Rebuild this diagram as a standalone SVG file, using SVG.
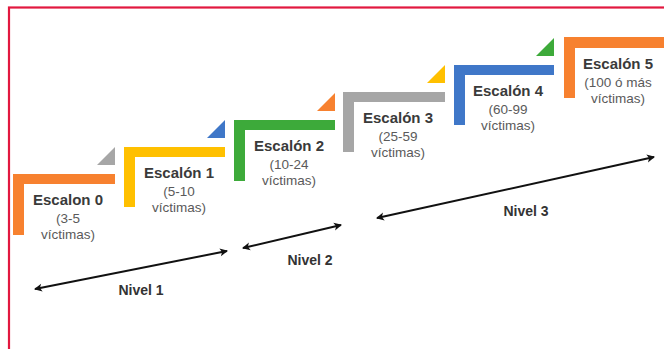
<svg xmlns="http://www.w3.org/2000/svg" width="664" height="349" viewBox="0 0 664 349">
<defs>
<marker id="ah" viewBox="0 0 10 10" refX="8" refY="5" markerWidth="5" markerHeight="5" orient="auto-start-reverse" markerUnits="strokeWidth">
<path d="M1,1 L9,5 L1,9 L3,5 Z" fill="#111"/>
</marker>
<style>
.t{font-family:"Liberation Sans",Arial,sans-serif;font-weight:bold;font-size:15px;fill:#3a3a3a;text-anchor:middle}
.s{font-family:"Liberation Sans",Arial,sans-serif;font-size:13.5px;fill:#5a5a5a;text-anchor:middle}
.n{font-family:"Liberation Sans",Arial,sans-serif;font-weight:bold;font-size:14px;fill:#333;text-anchor:middle}
.ln{stroke:#111;stroke-width:2;fill:none;marker-start:url(#ah);marker-end:url(#ah)}
</style>
</defs>
<rect x="0" y="0" width="664" height="349" fill="#fff"/>
<rect x="9" y="7.5" width="670" height="360" fill="none" stroke="#E2183F" stroke-width="2.2"/>

<g id="escalon0">
<path d="M13,174 H115 V184 H24 V235 H13 Z" fill="#F7812F"/>
<path d="M97,165 H115 V147 Z" fill="#A6A6A6"/>
<text class="t" x="68" y="205">Escalon 0</text>
<text class="s" x="68" y="223">(3-5</text>
<text class="s" x="68" y="239">víctimas)</text>
</g>
<g id="escalon1">
<path d="M124,147 H225 V157 H135 V207 H124 Z" fill="#FFC000"/>
<path d="M207,138 H225 V120 Z" fill="#3F77C8"/>
<text class="t" x="179" y="178">Escalón 1</text>
<text class="s" x="179" y="196">(5-10</text>
<text class="s" x="179" y="212">víctimas)</text>
</g>
<g id="escalon2">
<path d="M234,120 H335 V130 H245 V181 H234 Z" fill="#3DAA3A"/>
<path d="M317,111 H335 V93 Z" fill="#F7812F"/>
<text class="t" x="289" y="151">Escalón 2</text>
<text class="s" x="289" y="169">(10-24</text>
<text class="s" x="289" y="185">víctimas)</text>
</g>
<g id="escalon3">
<path d="M343,92 H445 V102 H354 V152 H343 Z" fill="#A6A6A6"/>
<path d="M427,83 H445 V65 Z" fill="#FFC000"/>
<text class="t" x="398" y="123">Escalón 3</text>
<text class="s" x="398" y="141">(25-59</text>
<text class="s" x="398" y="157">víctimas)</text>
</g>
<g id="escalon4">
<path d="M454,65 H554 V75 H465 V125 H454 Z" fill="#3F77C8"/>
<path d="M536,56 H554 V38 Z" fill="#3DAA3A"/>
<text class="t" x="508" y="96">Escalón 4</text>
<text class="s" x="508" y="114">(60-99</text>
<text class="s" x="508" y="130">víctimas)</text>
</g>
<g id="escalon5">
<path d="M564,37 H670 V48 H575 V98 H564 Z" fill="#F7812F"/>
<text class="t" x="618" y="69">Escalón 5</text>
<text class="s" x="618" y="87">(100 ó más</text>
<text class="s" x="618" y="103">víctimas)</text>
</g>

<g id="connectors">
<line class="ln" x1="35" y1="289" x2="227" y2="251"/>
<line class="ln" x1="243" y1="248" x2="341" y2="225"/>
<line class="ln" x1="377" y1="218" x2="654" y2="157"/>
</g>
<g id="niveles">
<text class="n" x="141" y="295">Nivel 1</text>
<text class="n" x="310" y="265">Nivel 2</text>
<text class="n" x="526" y="216">Nivel 3</text>
</g>
</svg>
